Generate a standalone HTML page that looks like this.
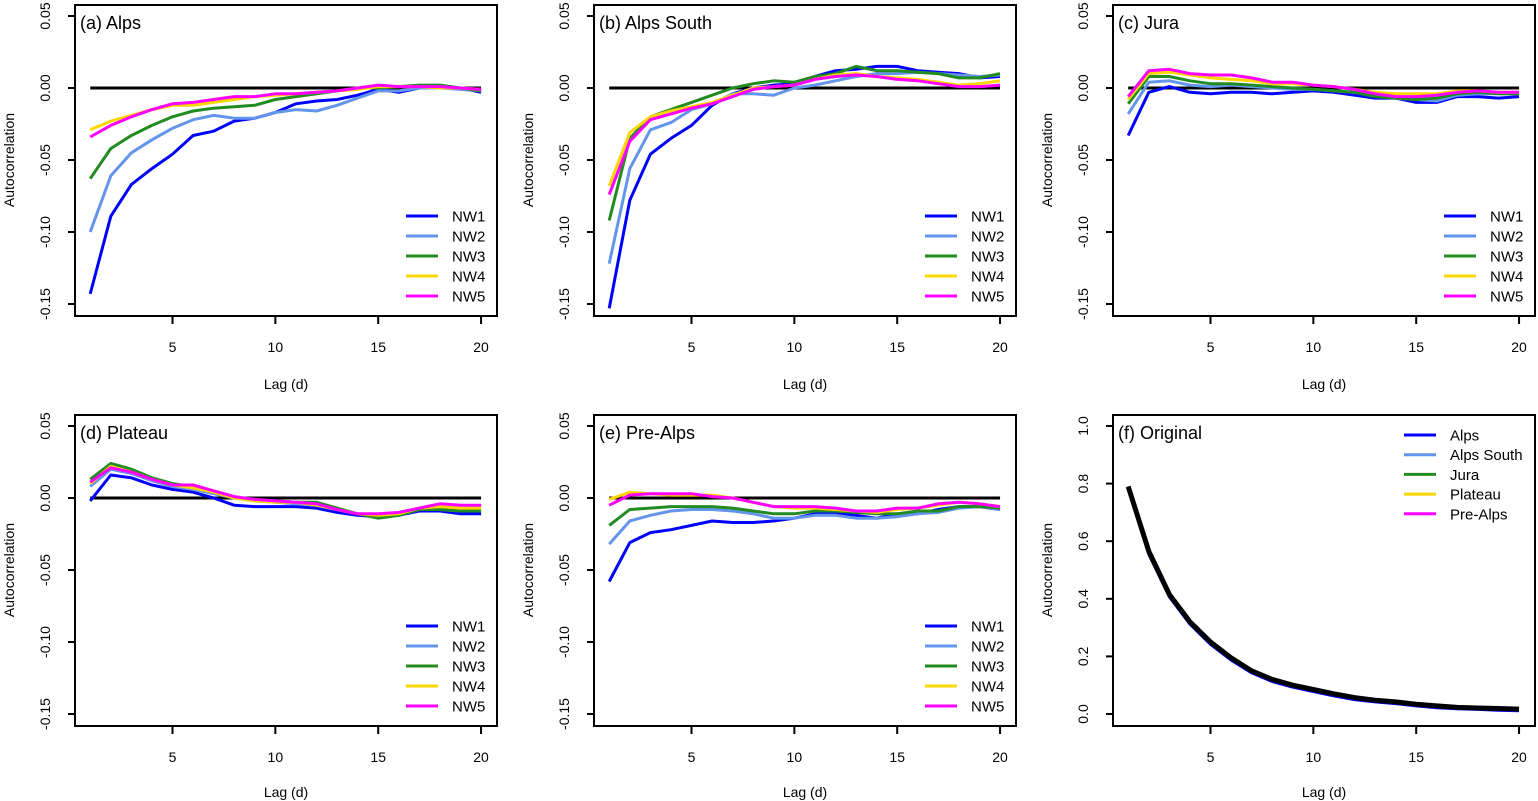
<!DOCTYPE html>
<html><head><meta charset="utf-8"><style>
html,body{margin:0;padding:0;background:#fff;}
svg{display:block;font-family:"Liberation Sans",sans-serif;}
</style></head><body>
<svg id="fig" width="1538" height="801" viewBox="0 0 1538 801"></svg>
<script>
const lags=[1,2,3,4,5,6,7,8,9,10,11,12,13,14,15,16,17,18,19,20];
const seriesNames=["NW1","NW2","NW3","NW4","NW5"];
const colors=["#0000ff","#6495ed","#228b22","#ffd700","#ff00ff"];
const alpsNW1=[-0.143,-0.089,-0.067,-0.056,-0.046,-0.033,-0.030,-0.023,-0.021,-0.017,-0.011,-0.009,-0.008,-0.005,-0.001,-0.003,0.000,0.001,0.000,-0.003];
const alpsNW2=[-0.100,-0.061,-0.045,-0.036,-0.028,-0.022,-0.019,-0.021,-0.021,-0.017,-0.015,-0.016,-0.012,-0.007,-0.002,-0.002,0.000,0.000,-0.001,-0.002];
const alpsNW3=[-0.063,-0.042,-0.033,-0.026,-0.020,-0.016,-0.014,-0.013,-0.012,-0.008,-0.006,-0.004,-0.002,0.000,0.000,0.001,0.002,0.002,0.000,-0.002];
const alpsNW4=[-0.029,-0.023,-0.019,-0.015,-0.012,-0.012,-0.010,-0.008,-0.006,-0.005,-0.004,-0.003,-0.002,-0.001,0.001,0.001,0.001,0.000,0.000,-0.001];
const alpsNW5=[-0.034,-0.026,-0.020,-0.015,-0.011,-0.010,-0.008,-0.006,-0.006,-0.004,-0.004,-0.003,-0.002,0.000,0.002,0.001,0.001,0.001,0.000,-0.001];
const southNW1=[-0.153,-0.078,-0.046,-0.035,-0.026,-0.012,-0.004,0.000,0.002,0.003,0.008,0.012,0.013,0.015,0.015,0.012,0.011,0.010,0.007,0.008];
const southNW2=[-0.122,-0.056,-0.029,-0.024,-0.015,-0.011,-0.004,-0.004,-0.005,0.000,0.002,0.005,0.008,0.010,0.010,0.011,0.010,0.009,0.008,0.009];
const southNW3=[-0.092,-0.035,-0.020,-0.015,-0.010,-0.005,0.000,0.003,0.005,0.004,0.008,0.010,0.015,0.012,0.012,0.011,0.010,0.007,0.007,0.010];
const southNW4=[-0.068,-0.031,-0.020,-0.016,-0.013,-0.010,-0.005,0.000,0.001,0.002,0.006,0.009,0.010,0.008,0.007,0.006,0.004,0.002,0.003,0.005];
const southNW5=[-0.074,-0.037,-0.022,-0.018,-0.014,-0.011,-0.006,-0.001,0.001,0.002,0.006,0.008,0.009,0.008,0.006,0.005,0.003,0.001,0.001,0.002];
const juraNW1=[-0.033,-0.003,0.001,-0.003,-0.004,-0.003,-0.003,-0.004,-0.003,-0.002,-0.003,-0.005,-0.007,-0.007,-0.010,-0.010,-0.006,-0.006,-0.007,-0.006];
const juraNW2=[-0.018,0.004,0.005,0.002,0.001,0.002,0.001,0.000,-0.001,-0.001,-0.002,-0.003,-0.005,-0.007,-0.008,-0.009,-0.005,-0.004,-0.004,-0.004];
const juraNW3=[-0.011,0.008,0.008,0.005,0.003,0.003,0.002,0.001,0.000,-0.001,-0.002,-0.003,-0.006,-0.007,-0.008,-0.007,-0.004,-0.003,-0.004,-0.004];
const juraNW4=[-0.008,0.010,0.011,0.009,0.007,0.006,0.005,0.003,0.003,0.002,0.001,-0.001,-0.003,-0.004,-0.004,-0.004,-0.002,-0.002,-0.003,-0.003];
const juraNW5=[-0.006,0.012,0.013,0.010,0.009,0.009,0.007,0.004,0.004,0.002,0.001,-0.001,-0.004,-0.006,-0.006,-0.005,-0.003,-0.002,-0.003,-0.003];
const plateauNW1=[-0.002,0.016,0.014,0.009,0.006,0.004,0.000,-0.005,-0.006,-0.006,-0.006,-0.007,-0.010,-0.012,-0.013,-0.012,-0.009,-0.009,-0.011,-0.011];
const plateauNW2=[0.008,0.020,0.017,0.012,0.008,0.006,0.003,0.000,-0.002,-0.003,-0.004,-0.005,-0.008,-0.011,-0.013,-0.012,-0.008,-0.008,-0.009,-0.009];
const plateauNW3=[0.013,0.024,0.020,0.014,0.010,0.008,0.004,0.000,-0.001,-0.002,-0.003,-0.003,-0.007,-0.011,-0.014,-0.012,-0.008,-0.008,-0.009,-0.009];
const plateauNW4=[0.010,0.022,0.018,0.013,0.009,0.007,0.004,0.000,-0.002,-0.003,-0.003,-0.005,-0.008,-0.011,-0.012,-0.011,-0.007,-0.006,-0.007,-0.007];
const plateauNW5=[0.011,0.021,0.018,0.013,0.009,0.009,0.005,0.001,-0.001,-0.002,-0.003,-0.004,-0.008,-0.011,-0.011,-0.010,-0.007,-0.004,-0.005,-0.005];
const preNW1=[-0.058,-0.031,-0.024,-0.022,-0.019,-0.016,-0.017,-0.017,-0.016,-0.014,-0.011,-0.011,-0.012,-0.014,-0.011,-0.011,-0.008,-0.006,-0.006,-0.008];
const preNW2=[-0.032,-0.016,-0.012,-0.009,-0.008,-0.008,-0.009,-0.011,-0.014,-0.014,-0.012,-0.012,-0.014,-0.014,-0.013,-0.011,-0.010,-0.007,-0.006,-0.008];
const preNW3=[-0.019,-0.008,-0.007,-0.006,-0.006,-0.006,-0.007,-0.009,-0.011,-0.011,-0.009,-0.009,-0.010,-0.011,-0.011,-0.009,-0.009,-0.006,-0.006,-0.007];
const preNW4=[-0.001,0.004,0.003,0.002,0.002,0.002,0.000,-0.003,-0.006,-0.007,-0.007,-0.008,-0.009,-0.010,-0.008,-0.007,-0.005,-0.003,-0.004,-0.006];
const preNW5=[-0.005,0.002,0.003,0.003,0.003,0.001,0.000,-0.003,-0.006,-0.006,-0.006,-0.007,-0.009,-0.009,-0.007,-0.007,-0.004,-0.003,-0.004,-0.006];
const regionNames=["Alps","Alps South","Jura","Plateau","Pre-Alps"];
const origAlps=[0.785,0.555,0.407,0.312,0.242,0.187,0.143,0.113,0.093,0.078,0.063,0.050,0.042,0.036,0.028,0.022,0.018,0.016,0.013,0.011];
const origSouth=[0.79,0.562,0.413,0.318,0.248,0.193,0.148,0.118,0.098,0.083,0.068,0.055,0.046,0.040,0.032,0.026,0.021,0.019,0.017,0.015];
const origJura=[0.79,0.563,0.414,0.319,0.249,0.194,0.149,0.119,0.099,0.084,0.069,0.056,0.047,0.041,0.033,0.027,0.022,0.020,0.018,0.016];
const origPlateau=[0.79,0.564,0.414,0.319,0.249,0.194,0.149,0.119,0.099,0.084,0.069,0.056,0.047,0.041,0.033,0.027,0.022,0.020,0.018,0.016];
const origPre=[0.79,0.564,0.415,0.320,0.250,0.195,0.150,0.120,0.100,0.085,0.070,0.057,0.048,0.042,0.034,0.028,0.023,0.021,0.019,0.017];
const origMean=[0.79,0.565,0.415,0.32,0.25,0.195,0.15,0.12,0.10,0.085,0.07,0.057,0.048,0.042,0.034,0.028,0.023,0.021,0.019,0.017];
const nwTicks=[0.05,0.00,-0.05,-0.10,-0.15];
const nwTickLabels=["0.05","0.00","-0.05","-0.10","-0.15"];
const origTicks=[1.0,0.8,0.6,0.4,0.2,0];
const origTickLabels=["1.0","0.8","0.6","0.4","0.2","0.0"];
const xTicks=[5,10,15,20];

const NS="http://www.w3.org/2000/svg";
const svg=document.getElementById('fig');
function mk(tag,attrs,parent,txt){const e=document.createElementNS(NS,tag);for(const k in attrs)e.setAttribute(k,attrs[k]);if(txt!==undefined)e.textContent=txt;(parent||svg).appendChild(e);return e;}

function panel(col,row,title,series,ticks,tickLabels,ymin,ymax,legendNames,legendY0,legendStep,legendX,extra,pname){
  const ox=col*519, oy=row*410;
  const left=75+ox, right=497+ox, top=5+oy, bottom=316+oy;
  const g=mk('g',{},svg);
  
  
  const yTop=16+oy, yBot=304+oy;
  const ys=v=>yTop+(ymax-v)/(ymax-ymin)*(yBot-yTop);
  const xs=l=>172.5+ox+(l-5)*20.57;
  if(extra==='zero'){
    const z=mk('line',{x1:xs(1),x2:xs(20),y1:ys(0),y2:ys(0),stroke:'#000','stroke-width':3},g);
    
    
  }
  series.forEach((s,i)=>{
    const p=mk('polyline',{points:s.map((v,j)=>xs(lags[j]).toFixed(1)+','+ys(v).toFixed(1)).join(' '),fill:'none',stroke:colors[i],'stroke-width':3,'stroke-linejoin':'round'},g);
    
    
  });
  if(extra==='mean'){
    const p=mk('polyline',{points:origMean.map((v,j)=>xs(lags[j]).toFixed(1)+','+ys(v).toFixed(1)).join(' '),fill:'none',stroke:'#000','stroke-width':5,'stroke-linejoin':'round'},g);
    
    
  }
  const box=mk('rect',{x:left,y:top,width:right-left,height:bottom-top,fill:'none',stroke:'#000','stroke-width':2},g);
  
  
  ticks.forEach((t,i)=>{
    const y=ys(t);
    mk('line',{x1:left-7,x2:left,y1:y,y2:y,stroke:'#000','stroke-width':2},g);
    const tl=mk('text',{x:0,y:0,transform:`translate(${50+ox},${y}) rotate(-90)`,'text-anchor':'middle','font-size':14},g,tickLabels[i]);
    
    
  });
  xTicks.forEach(t=>{
    const x=xs(t);
    mk('line',{x1:x,x2:x,y1:bottom,y2:bottom+8,stroke:'#000','stroke-width':2},g);
    const tl=mk('text',{x:x,y:bottom+36,'text-anchor':'middle','font-size':14},g,String(t));
    
    
  });
  const xt=mk('text',{x:286+ox,y:(row===0?389:797)+0,'text-anchor':'middle','font-size':14},g,'Lag (d)');
  
  
  const yt=mk('text',{x:0,y:0,transform:`translate(${14+ox},${160+oy}) rotate(-90)`,'text-anchor':'middle','font-size':14},g,'Autocorrelation');
  
  
  const tt=mk('text',{x:80+ox,y:29+oy,'font-size':18},g,title);
  
  
  legendNames.forEach((n,i)=>{
    const y=legendY0+oy+i*legendStep;
    const le=mk('g',{},g);
    
    
    mk('line',{x1:legendX+ox,x2:legendX+32+ox,y1:y,y2:y,stroke:colors[i],'stroke-width':3},le);
    mk('text',{x:legendX+46+ox,y:y+5.5,'font-size':15},le,n);
  });
}
panel(0,0,'(a) Alps',[alpsNW1,alpsNW2,alpsNW3,alpsNW4,alpsNW5],nwTicks,nwTickLabels,-0.15,0.05,seriesNames,216,20,406,'zero','panel-alps');
panel(1,0,'(b) Alps South',[southNW1,southNW2,southNW3,southNW4,southNW5],nwTicks,nwTickLabels,-0.15,0.05,seriesNames,216,20,406,'zero','panel-alps-south');
panel(2,0,'(c) Jura',[juraNW1,juraNW2,juraNW3,juraNW4,juraNW5],nwTicks,nwTickLabels,-0.15,0.05,seriesNames,216,20,406,'zero','panel-jura');
panel(0,1,'(d) Plateau',[plateauNW1,plateauNW2,plateauNW3,plateauNW4,plateauNW5],nwTicks,nwTickLabels,-0.15,0.05,seriesNames,216,20,406,'zero','panel-plateau');
panel(1,1,'(e) Pre-Alps',[preNW1,preNW2,preNW3,preNW4,preNW5],nwTicks,nwTickLabels,-0.15,0.05,seriesNames,216,20,406,'zero','panel-pre-alps');
panel(2,1,'(f) Original',[origAlps,origSouth,origJura,origPlateau,origPre],origTicks,origTickLabels,0,1.0,regionNames,25,19.7,366,'mean','panel-original');
</script>
</body></html>
